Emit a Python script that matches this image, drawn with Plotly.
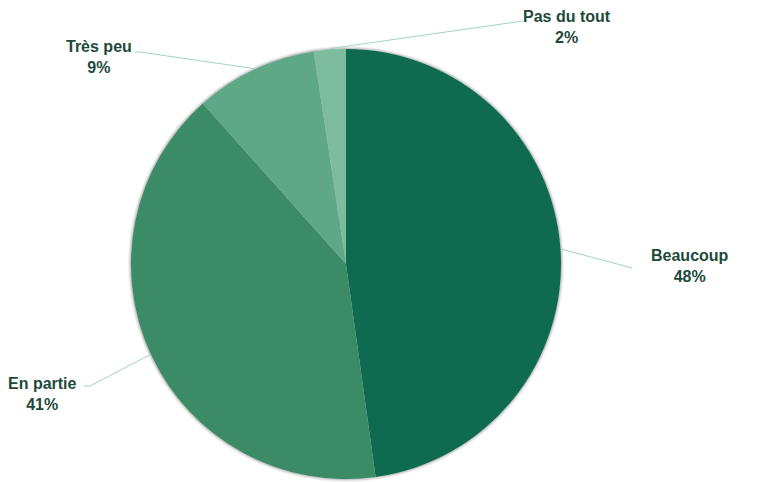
import math
import plotly.graph_objects as go

categories = ["Beaucoup", "En partie", "Très peu", "Pas du tout"]
values = [47.8, 40.6, 9.2, 2.4]
colors = ["#0e6b4f", "#3b8b66", "#5ea888", "#7dbc9d"]

W, H = 757, 482
cx, cy, r = 346, 264, 215  # pie center / radius in pixels

# label placement (pixels) and leader-line elbow points
label_pos = {
    "Beaucoup": (690, 266),
    "En partie": (42, 394),
    "Très peu": (99, 57),
    "Pas du tout": (567, 27),
}
elbow = {
    "Beaucoup": [(632, 268)],
    "En partie": [(90, 386), (84, 386)],
    "Très peu": [(140, 52), (135, 52)],
    "Pas du tout": [(523, 21)],
}

def px(x):
    return x / W

def py(y):
    return min(1.0, max(0.0, 1 - y / H))

def dom(rr):
    return dict(x=[px(cx - rr), px(cx + rr)], y=[py(cy + rr), py(cy - rr)])

fig = go.Figure()
# soft shadow behind the pie
for extra, alpha in [(3, 0.05), (2, 0.08), (1, 0.12)]:
    fig.add_trace(go.Pie(
        values=[sum(values)], labels=["shadow"],
        marker=dict(colors=[f"rgba(0,0,0,{alpha})"], line=dict(width=0)),
        textinfo="none", hoverinfo="skip", showlegend=False, sort=False,
        domain=dom(r + extra),
    ))

fig.add_trace(go.Pie(
    labels=categories,
    values=values,
    marker=dict(colors=colors, line=dict(width=0)),
    sort=False,
    direction="clockwise",
    rotation=0,
    textinfo="none",
    hoverinfo="label+percent",
    showlegend=False,
    domain=dom(r),
))

total = sum(values)
cum = 0
shapes = []
annotations = []
for cat, v in zip(categories, values):
    mid = (cum + v / 2) / total * 2 * math.pi
    cum += v
    sx = cx + (r + 1) * math.sin(mid)
    sy = cy - (r + 1) * math.cos(mid)
    pts = [(sx, sy)] + elbow[cat]
    path = "M " + " L ".join(f"{px(x)},{py(y)}" for x, y in pts)
    shapes.append(dict(type="path", path=path, xref="paper", yref="paper",
                       line=dict(color="#9fd4c6", width=1)))
    lx, ly = label_pos[cat]
    pct = round(v / total * 100)
    annotations.append(dict(
        x=px(lx), y=py(ly), xref="paper", yref="paper",
        text=f"<b>{cat}<br>{pct}%</b>", showarrow=False,
        font=dict(family="Liberation Sans, Arial, sans-serif", size=16, color="#1d4a3a"),
        align="center", xanchor="center", yanchor="middle",
    ))

fig.update_layout(
    width=W, height=H,
    margin=dict(l=0, r=0, t=0, b=0),
    paper_bgcolor="white",
    plot_bgcolor="white",
    shapes=shapes,
    annotations=annotations,
)

fig.write_html("out.html", config={"displayModeBar": False},
               post_script="document.body.style.margin='0';")
